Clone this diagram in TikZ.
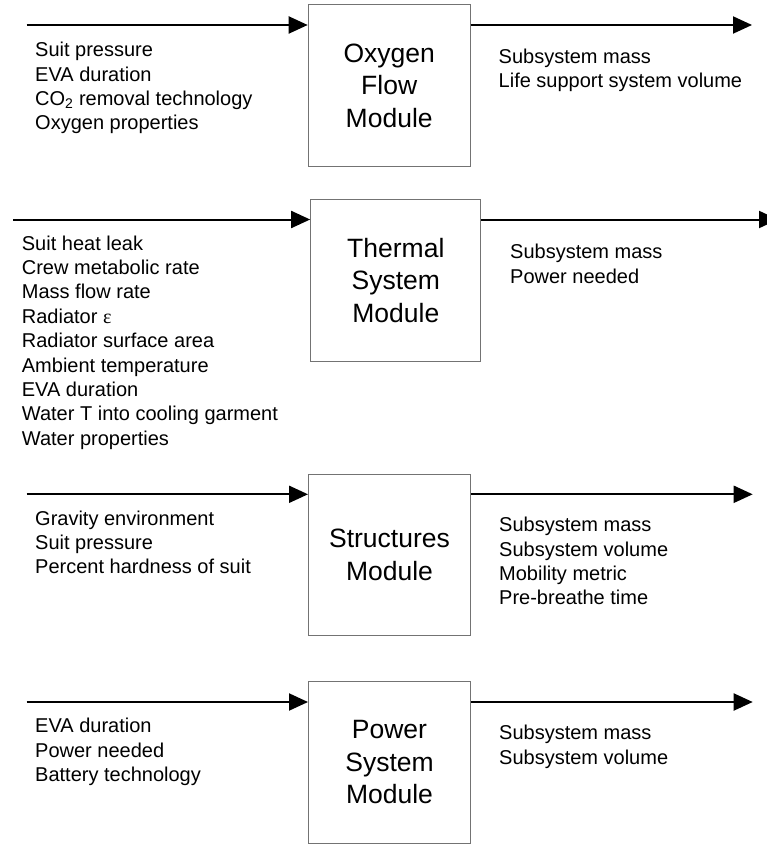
\documentclass[tikz,border=0pt]{standalone}
\usepackage{fontspec}
\setmainfont{Liberation Sans}
\newfontfamily\epsfont{Liberation Serif}
\usetikzlibrary{arrows.meta}

\begin{document}
\begin{tikzpicture}[x=1pt,y=-1pt]
    \tikzset{module/.style={draw=black!55,line width=1pt,align=center,inner
        sep=0pt,minimum width=162pt,minimum height=161.7pt,
        font=\fontsize{26.5}{32.5}\selectfont},
      io/.style={anchor=north west,align=left,inner sep=0pt,
        font=\fontsize{20}{24.4}\selectfont},
      flow/.style={line width=2pt,-{Triangle[length=19pt,width=17pt]}}}
    \useasboundingbox (0,0) rectangle (767,845);

    % oxygen flow
    \node[module] (oxy) at (389.2,85.8) {Oxygen\\Flow\\Module};
    \coordinate (oxyin) at (26.7,25); \coordinate (oxyout) at (752,25);
    \node[io] (oxyl) at (35,42) {Suit pressure\\EVA duration\\CO\textsubscript{2} removal technology\\Oxygen properties};
    \node[io] (oxyr) at (498.5,48.5) {Subsystem mass\\Life support system volume};

    % thermal
    \node[module,minimum width=170.3pt] (therm) at (395.8,280.2) {Thermal\\System\\Module};
    \coordinate (thermin) at (13.3,219.5); \coordinate (thermout) at (778,219.5);
    \node[io] (therml) at (21.7,235.5) {Suit heat leak\\Crew metabolic rate\\Mass flow rate\\Radiator {\epsfont ε}\\Radiator surface area\\Ambient temperature\\EVA duration\\Water T into cooling garment\\Water properties};
    \node[io] (thermr) at (510,244) {Subsystem mass\\Power needed};

    % structures
    \node[module] (struc) at (389.5,554.9) {Structures\\Module};
    \coordinate (strucin) at (26.7,494.3); \coordinate (strucout) at (752.7,494.3);
    \node[io] (strucl) at (35,510.5) {Gravity environment\\Suit pressure\\Percent hardness of suit};
    \node[io] (strucr) at (499,517) {Subsystem mass\\Subsystem volume\\Mobility metric\\Pre-breathe time};

    % power
    \node[module] (pow) at (389.5,762.2) {Power\\System\\Module};
    \coordinate (powin) at (26.7,702); \coordinate (powout) at (752.7,702);
    \node[io] (powl) at (35,718) {EVA duration\\Power needed\\Battery technology};
    \node[io] (powr) at (499,725) {Subsystem mass\\Subsystem volume};

    \foreach \m in {oxy,therm,struc,pow} {
      \draw[flow] (\m in) -- (\m in -| \m.west);
      \draw[flow] (\m out -| \m.east) -- (\m out);
    }

  \end{tikzpicture}
\end{document}
